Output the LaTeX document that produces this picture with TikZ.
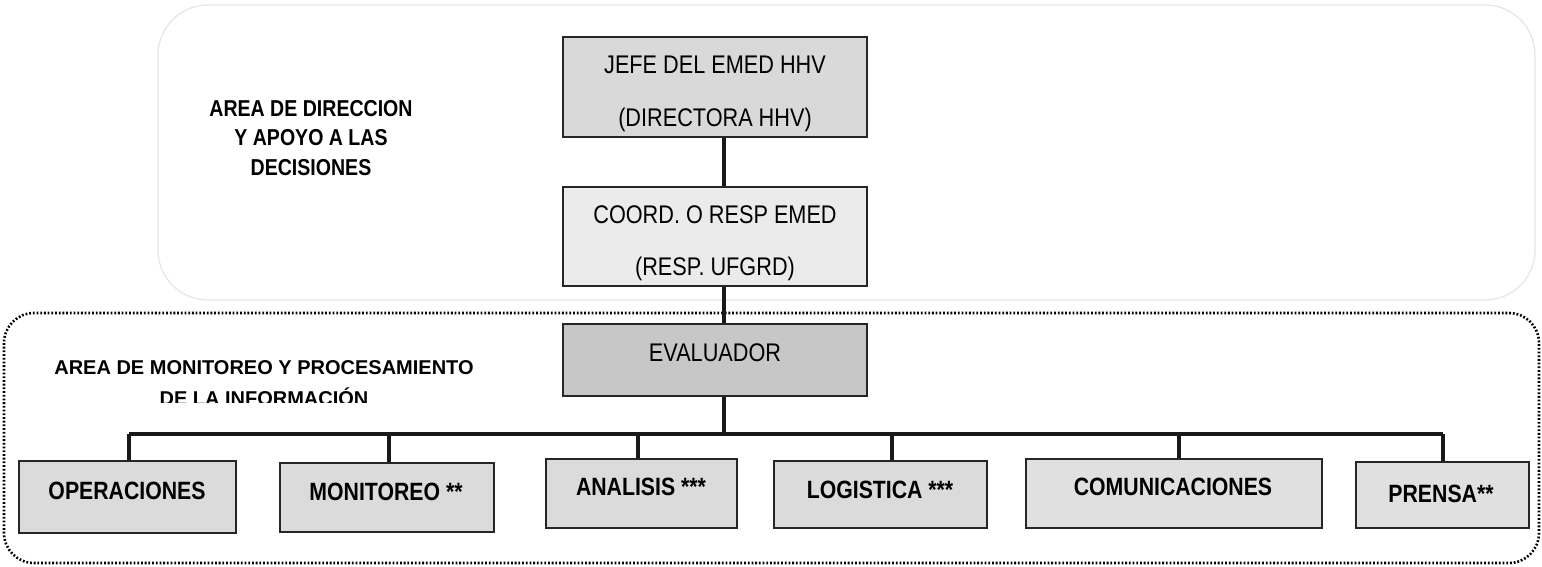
\documentclass[tikz,border=0pt]{standalone}
\usepackage{fontspec}
\setmainfont{Liberation Sans}[FakeStretch=0.85]
\newfontfamily\widefont{Liberation Sans}
\begin{document}
\begin{tikzpicture}[x=1pt,y=-1pt,
  box/.style={draw=black!85,line width=2.6pt,rectangle,inner sep=0pt},
  boxtxt/.style={anchor=base,inner sep=0pt,font=\fontsize{25.5}{30}\selectfont},
  bottxt/.style={anchor=base,inner sep=0pt,font=\fontsize{25}{30}\selectfont\bfseries},
  areatxt/.style={anchor=base,inner sep=0pt,font=\fontsize{23}{28}\selectfont\bfseries},
  areatxtb/.style={anchor=base,inner sep=0pt,font=\widefont\fontsize{20}{28}\selectfont\bfseries},
  conn/.style={line width=3.4pt,draw=black!90}]
\useasboundingbox (0,0) rectangle (1542,566);
% area frames
\draw[draw=black!10,line width=1.2pt,rounded corners=50pt] (158,5) rectangle (1535,300);
\draw[line width=2.6pt,dash pattern=on 1.8pt off 1.9pt,rounded corners=30pt] (4,313) rectangle (1539,563);
% area labels
\node[areatxt] (a1l1) at (311,116) {AREA DE DIRECCION};
\node[areatxt] (a1l2) at (311,145.5) {Y APOYO A LAS};
\node[areatxt] (a1l3) at (311,175) {DECISIONES};
\node[areatxtb] (a2l1) at (264,374) {AREA DE MONITOREO Y PROCESAMIENTO};
\begin{scope}
\clip (0,380) rectangle (600,402);
\node[areatxtb] (a2l2) at (264,405) {DE LA INFORMACIÓN};
\end{scope}
% boxes
\node[box,fill=black!15,minimum width=304pt,minimum height=100pt] (jefe) at (715,87) {};
\node[box,fill=black!8,minimum width=304pt,minimum height=99pt] (coord) at (715,236.5) {};
\node[box,fill=black!22,minimum width=304pt,minimum height=72pt] (eval) at (715,360) {};
\node[box,fill=black!14,minimum width=217pt,minimum height=72pt] (ops) at (127.5,497) {};
\node[box,fill=black!14,minimum width=214pt,minimum height=69pt] (mon) at (387,497.5) {};
\node[box,fill=black!14,minimum width=191pt,minimum height=69pt] (ana) at (641.5,493.5) {};
\node[box,fill=black!14,minimum width=213pt,minimum height=67pt] (log) at (880.5,494.5) {};
\node[box,fill=black!12,minimum width=296pt,minimum height=69pt] (com) at (1174,493.5) {};
\node[box,fill=black!12,minimum width=173pt,minimum height=66pt] (pre) at (1442.5,495) {};
% texts
\node[boxtxt] (jefe1) at (715,73) {JEFE DEL EMED HHV};
\node[boxtxt] (jefe2) at (715,126) {(DIRECTORA HHV)};
\node[boxtxt] (coord1) at (715,223) {COORD. O RESP EMED};
\node[boxtxt] (coord2) at (715,275) {(RESP. UFGRD)};
\node[boxtxt] (eval1) at (715,361) {EVALUADOR};
\node[bottxt] (ops1) at (127,499) {OPERACIONES};
\node[bottxt] (mon1) at (386,500) {MONITOREO **};
\node[bottxt] (ana1) at (641,495) {ANALISIS ***};
\node[bottxt] (log1) at (880,498) {LOGISTICA ***};
\node[bottxt] (com1) at (1173,495) {COMUNICACIONES};
\node[bottxt] (pre1) at (1441,502) {PRENSA**};
% connectors
\coordinate (d1) at (129,434);
\coordinate (d2) at (389,434);
\coordinate (d3) at (638,434);
\coordinate (d4) at (892,434);
\coordinate (d5) at (1179,434);
\coordinate (d6) at (1443,434);
\coordinate (dm) at (724,434);
\draw[conn] ([xshift=9pt]jefe.south) -- ([xshift=9pt]coord.north);
\draw[conn] ([xshift=9pt]coord.south) -- ([xshift=9pt]eval.north);
\draw[conn] ([xshift=9pt]eval.south) -- (dm);
\draw[conn] (d1) -- (d6);
\draw[conn] (d1) -- (d1 |- ops.north);
\draw[conn] (d2) -- (d2 |- mon.north);
\draw[conn] (d3) -- (d3 |- ana.north);
\draw[conn] (d4) -- (d4 |- log.north);
\draw[conn] (d5) -- (d5 |- com.north);
\draw[conn] (d6) -- (d6 |- pre.north);
\end{tikzpicture}
\end{document}
